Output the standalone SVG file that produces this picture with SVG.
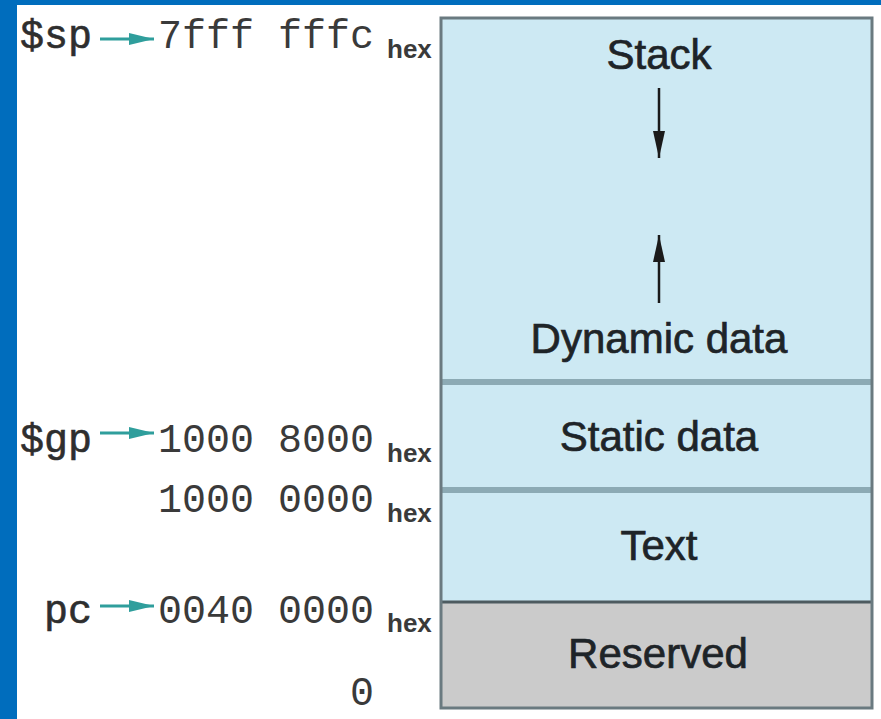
<svg xmlns="http://www.w3.org/2000/svg" width="881" height="719" viewBox="0 0 881 719">
  <defs>
    <marker id="ahBlack" markerUnits="userSpaceOnUse" markerWidth="28" markerHeight="14" refX="27" refY="7" orient="auto">
      <path d="M0,1 L27,7 L0,13 Z" fill="#1a1a1a"/>
    </marker>
    <marker id="ahTeal" markerUnits="userSpaceOnUse" markerWidth="26" markerHeight="14" refX="25" refY="7" orient="auto">
      <path d="M0,1 L25,7 L0,13 Z" fill="#2f9e9c"/>
    </marker>
  </defs>
  <style>
    .seg { fill: #cde9f3; }
    .res { fill: #cbcbcb; }
    .lbl { font-family: "Liberation Sans", Arial, sans-serif; font-size: 42px; fill: #1e2428; stroke: #1e2428; stroke-width: 0.7px; text-anchor: middle; }
    .mono { font-family: "Liberation Mono", "DejaVu Sans Mono", monospace; font-size: 40px; fill: #3a3a3a; }
    .reg { font-family: "Liberation Mono", "DejaVu Sans Mono", monospace; font-size: 40px; fill: #2e2e2e; stroke: #2e2e2e; stroke-width: 0.6px; text-anchor: end; }
    .sub { font-family: "Liberation Sans", Arial, sans-serif; font-size: 26px; fill: #3a3a3a; font-weight: bold; }
    .div { stroke: #8caab4; stroke-width: 6; }
    .conn { stroke: #1a1a1a; stroke-width: 2.5; fill: none; }
    .tconn { stroke: #2f9e9c; stroke-width: 3; fill: none; }
  </style>

  <rect x="0" y="0" width="881" height="719" fill="#006dbd"/>
  <rect x="17" y="5" width="864" height="714" fill="#ffffff"/>

  <g id="stack-dynamic">
    <rect class="seg" x="441" y="18" width="431" height="364"/>
    <text class="lbl" x="659" y="69">Stack</text>
    <text class="lbl" x="659" y="353">Dynamic data</text>
  </g>
  <g id="static-data">
    <rect class="seg" x="441" y="382" width="431" height="108"/>
    <text class="lbl" x="659" y="451">Static data</text>
  </g>
  <g id="text-seg">
    <rect class="seg" x="441" y="490" width="431" height="112"/>
    <text class="lbl" x="659" y="560">Text</text>
  </g>
  <g id="reserved">
    <rect class="res" x="441" y="602" width="431" height="106"/>
    <text class="lbl" x="658" y="668">Reserved</text>
  </g>
  <g id="box-lines">
    <line class="div" x1="441" y1="382" x2="872" y2="382"/>
    <line class="div" x1="441" y1="490" x2="872" y2="490"/>
    <line x1="441" y1="602" x2="872" y2="602" stroke="#4d5b60" stroke-width="3"/>
    <rect x="441" y="18" width="431" height="690" fill="none" stroke="#6a7a80" stroke-width="3"/>
  </g>

  <g id="addr-sp">
    <text class="reg" x="92" y="48">$sp</text>
    <text class="mono" x="158" y="48">7fff fffc</text>
    <text class="sub" x="387" y="58">hex</text>
  </g>
  <g id="addr-gp">
    <text class="reg" x="92" y="452">$gp</text>
    <text class="mono" x="158" y="452">1000 8000</text>
    <text class="sub" x="387" y="462">hex</text>
  </g>
  <g id="addr-text">
    <text class="mono" x="158" y="512">1000 0000</text>
    <text class="sub" x="387" y="522">hex</text>
  </g>
  <g id="addr-pc">
    <text class="reg" x="92" y="623">pc</text>
    <text class="mono" x="158" y="623">0040 0000</text>
    <text class="sub" x="387" y="632">hex</text>
  </g>
  <g id="addr-zero">
    <text class="mono" x="350" y="705">0</text>
  </g>

  <g id="connectors">
    <line class="conn" x1="659" y1="88" x2="659" y2="158" marker-end="url(#ahBlack)"/>
    <line class="conn" x1="659" y1="303" x2="659" y2="235" marker-end="url(#ahBlack)"/>
    <line class="tconn" x1="100" y1="39" x2="154" y2="39" marker-end="url(#ahTeal)"/>
    <line class="tconn" x1="100" y1="433" x2="154" y2="433" marker-end="url(#ahTeal)"/>
    <line class="tconn" x1="100" y1="606" x2="154" y2="606" marker-end="url(#ahTeal)"/>
  </g>
</svg>
